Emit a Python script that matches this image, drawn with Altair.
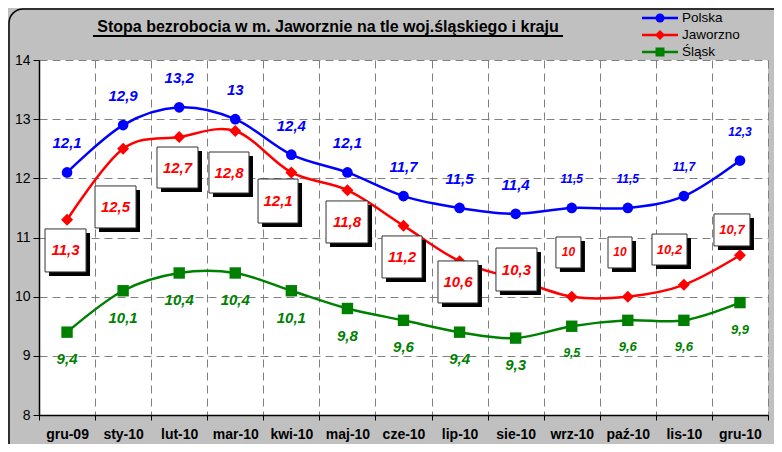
import altair as alt
import pandas as pd

# ---------------- data ----------------
months = ["gru-09", "sty-10", "lut-10", "mar-10", "kwi-10", "maj-10", "cze-10",
          "lip-10", "sie-10", "wrz-10", "paź-10", "lis-10", "gru-10"]
polska = [12.1, 12.9, 13.2, 13.0, 12.4, 12.1, 11.7, 11.5, 11.4, 11.5, 11.5, 11.7, 12.3]
jaworzno = [11.3, 12.5, 12.7, 12.8, 12.1, 11.8, 11.2, 10.6, 10.3, 10.0, 10.0, 10.2, 10.7]
slask = [9.4, 10.1, 10.4, 10.4, 10.1, 9.8, 9.6, 9.4, 9.3, 9.5, 9.6, 9.6, 9.9]
series_names = ["Polska", "Jaworzno", "Śląsk"]
title_text = "Stopa bezrobocia w m. Jaworznie na tle woj.śląskiego i kraju"
y_ticks = [8, 9, 10, 11, 12, 13, 14]

# ---------------- style / layout ----------------
W, H = 729, 355
FONT = "Arial"
colors = ["#0000FF", "#FF0000", "#008000"]
shapes = ["circle", "diamond", "square"]
marker_sizes = [113, 144, 130]
legend_marker_sizes = [80, 100, 81]
# label font sizes per point
polska_fs = [15] * 9 + [12] * 4
jaw_fs = [15] * 9 + [12, 12, 13, 13]
slask_fs = [15] * 9 + [12, 13, 13, 13]
# Jaworzno label boxes: offset of box centre from the point (px) and box size (px)
box_dx = [-1.5, -7.6, -1.7, -6.3, -13.3, -0.4, -1.5, -1.6, 0.8, -3.3, -7.8, -14.4, -8.0]
box_dy = [30.7, 58.2, 30.6, 41.5, 28.6, 31.8, 31.3, 20.8, -9.4, -44.2, -44.2, -35.3, -25.3]
box_w = [41, 41, 41, 40, 40, 42, 40, 40, 41, 25, 24, 35, 36]
box_h = [43, 42, 41, 41, 44, 42, 42, 42, 43, 31, 31, 31, 32]
SHADOW = 4

n = len(months)
xu = (n) / W          # data units per px (x)
yu = (14 - 8) / H     # data units per px (y)


def fmt(v):
    return f"{v:g}".replace(".", ",")


rows = []
for s, vals, col, shp, ms, fsl in zip(series_names, [polska, jaworzno, slask], colors, shapes,
                                     marker_sizes, [polska_fs, jaw_fs, slask_fs]):
    for i, v in enumerate(vals):
        rows.append(dict(idx=i, month=months[i], value=v, series=s, color=col, shape=shp,
                         msize=ms, fs=fsl[i], label=fmt(v)))
df = pd.DataFrame(rows)

brow = []
for i, v in enumerate(jaworzno):
    cx = i + box_dx[i] * xu
    cy = v - box_dy[i] * yu
    hw, hh = box_w[i] / 2 * xu, box_h[i] / 2 * yu
    brow.append(dict(idx=i, cx=cx, cy=cy, x1=cx - hw, x2=cx + hw, y1=cy - hh, y2=cy + hh,
                     sx1=cx - hw + SHADOW * xu, sx2=cx + hw + SHADOW * xu,
                     sy1=cy - hh - SHADOW * yu, sy2=cy + hh - SHADOW * yu,
                     label=fmt(v), fs=jaw_fs[i]))
boxes = pd.DataFrame(brow)

xscale = alt.Scale(domain=[-0.5, n - 0.5], nice=False, zero=False)
yscale = alt.Scale(domain=[8, 14], nice=False, zero=False)

months_js = "[" + ",".join(f"'{m}'" for m in months) + "]"
is_half = "datum.value % 1 !== 0"
xaxis = alt.Axis(
    values=[k * 0.5 - 0.5 for k in range(2 * n + 1)],
    labelExpr=f"datum.value % 1 === 0 ? {months_js}[datum.value] : ''",
    labelFont=FONT, labelFontSize=14, labelFontWeight="bold", labelColor="black",
    labelPadding=7, labelOverlap=False, labelFlush=False,
    tickSize=5, tickColor="black", tickWidth=1,
    tickOpacity={"condition": {"test": is_half, "value": 1}, "value": 0},
    grid=True, gridDash=[8, 5], gridColor="#808080", gridWidth=1,
    gridOpacity={"condition": {"test": is_half, "value": 1}, "value": 0},
    domainColor="black", domainWidth=1.5, title=None)
yaxis = alt.Axis(values=y_ticks, labelFont=FONT, labelFontSize=14, labelColor="black",
                 labelPadding=3, tickSize=6, tickColor="black",
                 grid=True, gridDash=[8, 5], gridColor="#808080", gridWidth=1,
                 domainColor="black", domainWidth=1.5, title=None)


def X(field):
    return alt.X(field, scale=xscale, axis=xaxis)


def Y(field):
    return alt.Y(field, scale=yscale, axis=yaxis)


base = alt.Chart(df)

lines = base.mark_line(interpolate="cardinal", strokeWidth=2.5).encode(
    x=X("idx:Q"), y=Y("value:Q"), color=alt.Color("color:N", scale=None), detail="series:N")

points = base.mark_point(filled=True, opacity=1).encode(
    x=X("idx:Q"), y=Y("value:Q"), color=alt.Color("color:N", scale=None),
    shape=alt.Shape("shape:N", scale=None), size=alt.Size("msize:Q", scale=None))

pol_lab = base.transform_filter(alt.datum.series == "Polska").mark_text(
    font=FONT, fontWeight="bold", fontStyle="italic", dy=-29, baseline="middle",
    color=colors[0]).encode(x=X("idx:Q"), y=Y("value:Q"), text="label:N",
                            size=alt.Size("fs:Q", scale=None))

sl_lab = base.transform_filter(alt.datum.series == "Śląsk").mark_text(
    font=FONT, fontWeight="bold", fontStyle="italic", dy=27, baseline="middle",
    color=colors[2]).encode(x=X("idx:Q"), y=Y("value:Q"), text="label:N",
                            size=alt.Size("fs:Q", scale=None))

bbase = alt.Chart(boxes)
shadow = bbase.mark_rect(color="black").encode(
    x=X("sx1:Q"), x2="sx2:Q", y=Y("sy1:Q"), y2="sy2:Q")
box = bbase.mark_rect(fill="white", stroke="#333333", strokeWidth=1).encode(
    x=X("x1:Q"), x2="x2:Q", y=Y("y1:Q"), y2="y2:Q")
box_txt = bbase.mark_text(font=FONT, fontWeight="bold", fontStyle="italic",
                          baseline="middle", color=colors[1]).encode(
    x=X("cx:Q"), y=Y("cy:Q"), text="label:N", size=alt.Size("fs:Q", scale=None))

# title with underline
one = pd.DataFrame({"t": [title_text]})
title = alt.Chart(one).mark_text(font=FONT, fontSize=16, fontWeight="bold", color="black",
                                 baseline="alphabetic", align="center").encode(
    x=alt.value(289), y=alt.value(-28), text="t:N")
underline = alt.Chart(one).mark_rule(color="black", strokeWidth=2).encode(
    x=alt.value(54), x2=alt.value(524), y=alt.value(-24))

# outer frame (right and bottom sides run past the picture, as in the original)
frame = alt.Chart(one).mark_rect(fillOpacity=0, stroke="black", strokeWidth=1.5,
                                 cornerRadius=14).encode(
    x=alt.value(-30), x2=alt.value(W + 30), y=alt.value(-51), y2=alt.value(H + 60))

# legend
leg_layers = []
for k, (s, col, shp, ms) in enumerate(zip(series_names, colors, shapes, legend_marker_sizes)):
    ly = -42 + 17 * k
    d = pd.DataFrame({"t": [s]})
    c = alt.Chart(d)
    leg_layers += [
        c.mark_rule(color=col, strokeWidth=2.5).encode(x=alt.value(603), x2=alt.value(639), y=alt.value(ly)),
        c.mark_point(filled=True, opacity=1, color=col, shape=shp, size=ms).encode(
            x=alt.value(621), y=alt.value(ly)),
        c.mark_text(font=FONT, fontSize=13.5, color="black", align="left", baseline="middle").encode(
            x=alt.value(643), y=alt.value(ly), text="t:N"),
    ]

chart = alt.layer(lines, points, pol_lab, sl_lab, shadow, box, box_txt, title, underline,
                  frame, *leg_layers).properties(
    width=W, height=H, autosize="none",
    padding={"left": 31, "top": 52, "right": 6, "bottom": 29},
    background="#c0c0c0",
).configure_view(fill="white", stroke=None)

chart.save("out.html", embed_options={"renderer": "svg", "actions": False})
